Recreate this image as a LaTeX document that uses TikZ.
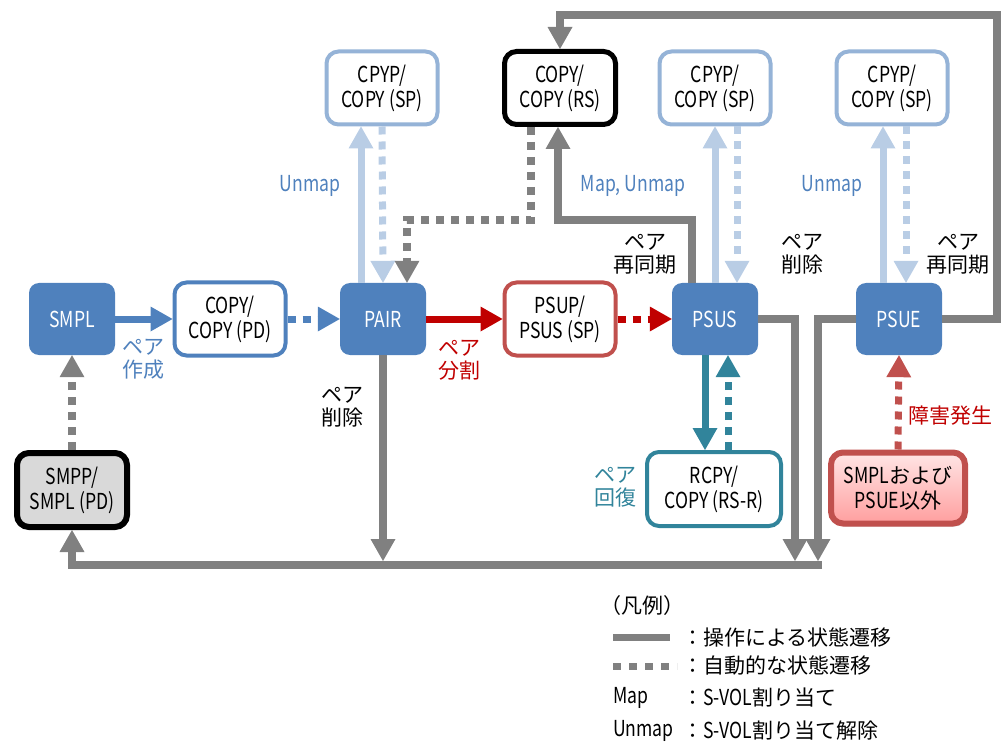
\documentclass[tikz,border=0pt]{standalone}
\usepackage{fontspec}
\setmainfont{Noto Sans CJK JP}
\newfontfamily\nrw{Noto Sans CJK JP}[FakeStretch=0.8]
\usetikzlibrary{arrows.meta,shadows}
\definecolor{stblue}{HTML}{4F81BD}
\definecolor{ltborder}{HTML}{95B3D7}
\definecolor{ltarrow}{HTML}{B9CDE5}
\definecolor{opgray}{HTML}{808080}
\definecolor{splitred}{HTML}{C00000}
\definecolor{boxred}{HTML}{C0504D}
\definecolor{rteal}{HTML}{31849B}
\definecolor{ltgray}{HTML}{D9D9D9}
\tikzset{
  state/.style={fill=stblue,rounded corners=10pt,minimum width=86pt,minimum height=72pt,text=white,inner sep=0pt,font=\fontsize{22}{25}\nrw},
  box/.style={draw,fill=white,line width=4pt,rounded corners=12pt,minimum width=111pt,minimum height=73pt,align=center,inner sep=0pt,font=\fontsize{22}{25}\nrw},
  opline/.style={line width=7pt,-{Triangle[length=22pt,width=25pt,line width=0pt]}},
  autoline/.style={opline,dash pattern=on 8pt off 7pt},
  grayop/.style={opline,line width=8pt,draw=opgray},
  grayauto/.style={autoline,line width=8pt,draw=opgray},
  lbl/.style={align=center,inner sep=0pt},
}
\begin{document}
\begin{tikzpicture}[x=1pt,y=-1pt,font=\fontsize{21}{23}\selectfont]
\useasboundingbox (0,0) rectangle (1001,743);
% states
\node[state] (SMPL) at (72,319) {SMPL};
\node[box,draw=stblue] (COPYPD) at (230,319) {COPY/\\COPY (PD)};
\node[state] (PAIR) at (383,319) {PAIR};
\node[box,draw=boxred] (PSUP) at (560,319) {PSUP/\\PSUS (SP)};
\node[state] (PSUS) at (715,319) {PSUS};
\node[state] (PSUE) at (899,319) {PSUE};
\node[box,draw=ltborder] (CPYPa) at (382,88) {CPYP/\\COPY (SP)};
\node[box,draw=black,line width=5pt] (COPYRS) at (560,88) {COPY/\\COPY (RS)};
\node[box,draw=ltborder] (CPYPb) at (715,88) {CPYP/\\COPY (SP)};
\node[box,draw=ltborder] (CPYPc) at (892,88) {CPYP/\\COPY (SP)};
\node[box,draw=rteal,minimum width=134pt,minimum height=74pt] (RCPY) at (714,489) {RCPY/\\COPY (RS-R)};
\node[box,draw=boxred,line width=6pt,top color=red!10,bottom color=red!38,drop shadow={opacity=0.3,shadow xshift=2pt,shadow yshift=-3pt},minimum width=134pt,minimum height=71pt,font=\fontsize{21}{25}\selectfont] (FAIL) at (898,488) {{\nrw\fontsize{22}{25}\selectfont SMPL}および\\{\nrw\fontsize{22}{25}\selectfont PSUE}以外};
\node[box,draw=black,line width=6pt,fill=ltgray,minimum width=110pt,minimum height=74pt] (SMPP) at (72,490) {SMPP/\\SMPL (PD)};
%
\coordinate (rsA) at (558,220);
\coordinate (rsB) at (407,220);
\coordinate (loopR) at (997,15);
\coordinate (busA) at (795,561);
\coordinate (busB) at (818,561);
\coordinate (busR) at (822,565);
% main row
\draw[opline,draw=stblue] (SMPL) -- (COPYPD);
\draw[autoline,draw=stblue] (COPYPD) -- (PAIR);
\draw[opline,draw=splitred] (PAIR) -- (PSUP);
\draw[autoline,draw=splitred] (PSUP) -- (PSUS);
% S-VOL
\draw[opline,draw=ltarrow] ([xshift=-22pt]PAIR.north) -- ([xshift=-21pt]CPYPa.south);
\draw[autoline,draw=ltarrow] (CPYPa.south) -- (PAIR.north);
\draw[opline,draw=ltarrow] (PSUS.north) -- (CPYPb.south);
\draw[autoline,draw=ltarrow] ([xshift=22pt]CPYPb.south) -- ([xshift=22pt]PSUS.north);
\draw[opline,draw=ltarrow] ([xshift=-16pt]PSUE.north) -- ([xshift=-9pt]CPYPc.south);
\draw[autoline,draw=ltarrow] ([xshift=14pt]CPYPc.south) -- ([xshift=7pt]PSUE.north);
% gray transitions
\draw[grayauto] ([xshift=-29pt]COPYRS.south) |- (rsB) -- ([xshift=24pt]PAIR.north);
\draw[grayop] ([xshift=-23pt]PSUS.north) |- (rsA) -- ([xshift=-2pt]COPYRS.south);
\draw[grayop] (PSUE.east) -| (loopR) -| (COPYRS.north);
\draw[grayop] (PAIR.south) -- (PAIR.south |- busA);
\draw[grayop] (PSUS.east) -| (busA);
\draw[grayop] (PSUE.west) -| (busB);
\draw[grayop] (busR) -| (SMPP.south);
\draw[grayauto] (SMPP.north) -- (SMPL.south);
% RS-R
\draw[opline,draw=rteal] ([xshift=-10pt]PSUS.south) -- ([xshift=-9pt]RCPY.north);
\draw[autoline,draw=rteal] ([xshift=14pt]RCPY.north) -- ([xshift=13pt]PSUS.south);
\draw[autoline,draw=boxred] (FAIL.north) -- (PSUE.south);
% labels
\node[lbl,text=stblue] (lCreate) at (143,359) {ペア\\作成};
\node[lbl,text=splitred] (lSplit) at (459,360) {ペア\\分割};
\node[lbl] (lDelA) at (342,407) {ペア\\削除};
\node[lbl,text=stblue,font=\fontsize{22}{25}\nrw] (lUnA) at (310,186) {Unmap};
\node[lbl,text=stblue,font=\fontsize{22}{25}\nrw] (lMap) at (633,186) {Map, Unmap};
\node[lbl] (lSyncA) at (645,254) {ペア\\再同期};
\node[lbl] (lDelB) at (802,254) {ペア\\削除};
\node[lbl,text=stblue,font=\fontsize{22}{25}\nrw] (lUnB) at (832,186) {Unmap};
\node[lbl] (lSyncB) at (958,254) {ペア\\再同期};
\node[lbl,text=rteal] (lRec) at (615,487) {ペア\\回復};
\node[lbl,text=splitred] (lFail) at (950,416) {障害発生};
% legend
\node[lbl,anchor=west] (lgd) at (600,606) {（凡例）};
\draw[line width=7pt,opgray] (613,637) -- (670,637);
\draw[line width=7pt,opgray,dash pattern=on 8pt off 8pt] (613,666) -- (677,666);
\node[lbl,anchor=west] at (682,637) {：操作による状態遷移};
\node[lbl,anchor=west] at (682,666) {：自動的な状態遷移};
\node[lbl,anchor=west,font=\fontsize{22}{25}\nrw] at (613,698) {Map};
\node[lbl,anchor=west] at (682,698) {：{\nrw\fontsize{22}{25}\selectfont S-VOL}割り当て};
\node[lbl,anchor=west,font=\fontsize{22}{25}\nrw] at (613,731) {Unmap};
\node[lbl,anchor=west] at (682,731) {：{\nrw\fontsize{22}{25}\selectfont S-VOL}割り当て解除};
\end{tikzpicture}
\end{document}
